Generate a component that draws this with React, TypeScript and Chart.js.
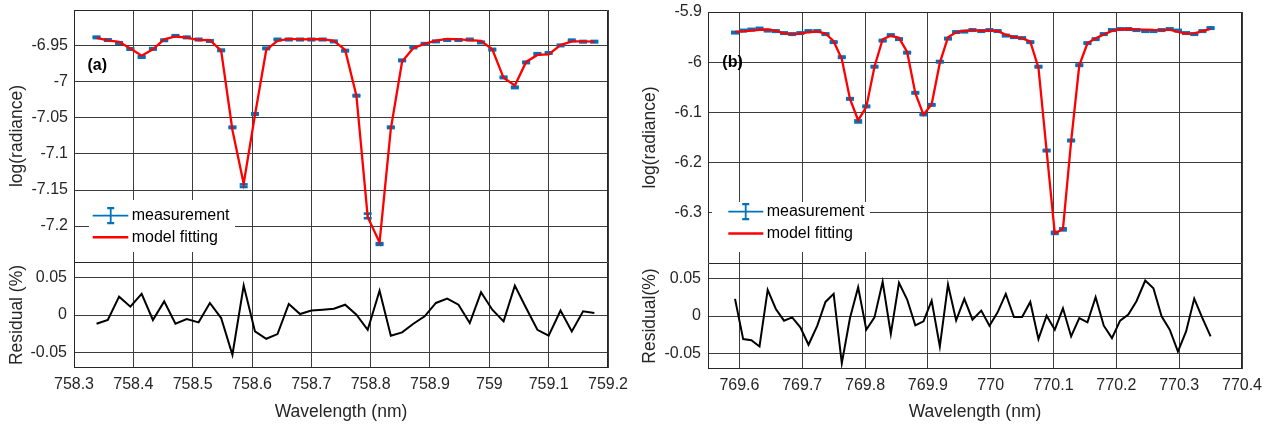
import React, { useEffect, useRef } from 'react';
import { Chart, registerables } from 'chart.js';

Chart.register(...registerables);

// ---------------- Panel (a) data ----------------
const wavelengthA = [
  758.338, 758.357, 758.376, 758.395, 758.414, 758.433, 758.452, 758.471, 758.490, 758.510,
  758.529, 758.548, 758.567, 758.586, 758.605, 758.624, 758.643, 758.662, 758.681, 758.700,
  758.719, 758.738, 758.757, 758.776, 758.795, 758.815, 758.834, 758.853, 758.872, 758.891,
  758.910, 758.929, 758.948, 758.967, 758.986, 759.005, 759.024, 759.043, 759.062, 759.081,
  759.100, 759.120, 759.139, 759.158, 759.177,
];
const measurementA = [
  -6.938, -6.9417, -6.9458, -6.9542, -6.9653, -6.954, -6.942, -6.936, -6.938, -6.941,
  -6.943, -6.956, -7.063, -7.144, -7.0444, -6.9533, -6.941, -6.941, -6.941, -6.941,
  -6.941, -6.9436, -6.9565, -7.019, -7.186, -7.225, -7.063, -6.970, -6.952, -6.947,
  -6.9436, -6.9417, -6.9417, -6.941, -6.945, -6.955, -6.9936, -7.0075, -6.9728, -6.961,
  -6.9597, -6.9492, -6.9422, -6.944, -6.944,
];
const errorA = [
  0.001, 0.001, 0.001, 0.001, 0.001, 0.001, 0.001, 0.001, 0.001, 0.001,
  0.001, 0.001, 0.001, 0.0018, 0.001, 0.001, 0.001, 0.001, 0.001, 0.001,
  0.001, 0.001, 0.001, 0.001, 0.0032, 0.0012, 0.001, 0.001, 0.001, 0.001,
  0.001, 0.001, 0.001, 0.001, 0.001, 0.001, 0.001, 0.001, 0.001, 0.001,
  0.001, 0.001, 0.001, 0.001, 0.001,
];
const modelA = [
  -6.9388, -6.9422, -6.9441, -6.9534, -6.9634, -6.9545, -6.9407, -6.9368, -6.9384, -6.9417,
  -6.9419, -6.9563, -7.0667, -7.1413, -7.0459, -6.9555, -6.9428, -6.940, -6.9409, -6.9406,
  -6.9405, -6.943, -6.9555, -7.019, -7.1874, -7.2228, -7.0649, -6.9716, -6.9528, -6.9471,
  -6.9425, -6.9402, -6.9407, -6.9417, -6.9429, -6.9545, -6.9942, -7.0048, -6.9721, -6.9624,
  -6.9616, -6.9488, -6.9437, -6.9437, -6.9438,
];
const residualA = [
  -0.0115, -0.0066, 0.0242, 0.011, 0.0278, -0.0066, 0.018, -0.0115, -0.0053, -0.0097,
  0.0159, -0.004, -0.0525, 0.039, -0.0217, -0.0314, -0.0252, 0.0145, 0.0013, 0.006,
  0.007, 0.0083, 0.0136, 0.0004, -0.0195, 0.032, -0.0274, -0.023, -0.0115, -0.0018,
  0.0159, 0.0216, 0.0136, -0.0106, 0.030, 0.007, -0.0084, 0.0388, 0.0093, -0.0195,
  -0.0274, 0.006, -0.0217, 0.0048, 0.0026,
];
const xTicksA = [758.3, 758.4, 758.5, 758.6, 758.7, 758.8, 758.9, 759, 759.1, 759.2];
const yTicksTopA = [-7.2, -7.15, -7.1, -7.05, -7, -6.95];

// ---------------- Panel (b) data ----------------
const wavelengthB = [
  769.593, 769.606, 769.619, 769.632, 769.645, 769.658, 769.671, 769.684, 769.697, 769.710,
  769.724, 769.737, 769.750, 769.763, 769.776, 769.789, 769.802, 769.815, 769.828, 769.841,
  769.854, 769.867, 769.880, 769.893, 769.906, 769.919, 769.932, 769.945, 769.958, 769.971,
  769.985, 769.998, 770.011, 770.024, 770.037, 770.050, 770.063, 770.076, 770.089, 770.102,
  770.115, 770.128, 770.141, 770.154, 770.167, 770.180, 770.193, 770.206, 770.219, 770.232,
  770.246, 770.259, 770.272, 770.285, 770.298, 770.311, 770.324, 770.337, 770.350,
];
const measurementB = [
  -5.941, -5.937, -5.935, -5.933, -5.937, -5.938, -5.942, -5.944, -5.942, -5.938,
  -5.938, -5.944, -5.960, -5.990, -6.073, -6.118, -6.088, -6.009, -5.957, -5.946,
  -5.954, -5.981, -6.061, -6.104, -6.085, -5.999, -5.953, -5.940, -5.939, -5.936,
  -5.938, -5.936, -5.938, -5.947, -5.950, -5.952, -5.960, -6.009, -6.176, -6.340,
  -6.333, -6.156, -6.006, -5.962, -5.954, -5.944, -5.936, -5.934, -5.934, -5.936,
  -5.938, -5.938, -5.936, -5.934, -5.937, -5.942, -5.944, -5.938, -5.932,
];
const errorB = [
  0.0014, 0.0014, 0.0014, 0.0014, 0.0014, 0.0014, 0.0014, 0.0014, 0.0014, 0.0014,
  0.0014, 0.0014, 0.0014, 0.0014, 0.0014, 0.002, 0.0014, 0.0014, 0.0014, 0.0014,
  0.0014, 0.0014, 0.0014, 0.0014, 0.0014, 0.0014, 0.0014, 0.0014, 0.0014, 0.0014,
  0.0014, 0.0014, 0.0014, 0.0014, 0.0014, 0.0014, 0.0014, 0.0014, 0.0014, 0.002,
  0.002, 0.0014, 0.0014, 0.0014, 0.0014, 0.0014, 0.0014, 0.0014, 0.0014, 0.0014,
  0.0014, 0.0014, 0.0014, 0.0014, 0.0014, 0.0014, 0.0014, 0.0014, 0.0014,
];
const modelB = [
  -5.9396, -5.9388, -5.9369, -5.9354, -5.9349, -5.9374, -5.9424, -5.9441, -5.9429, -5.9403,
  -5.9388, -5.9429, -5.9582, -5.9937, -6.0732, -6.1157, -6.0891, -6.0091, -5.9543, -5.9474,
  -5.9514, -5.9797, -6.0617, -6.1044, -6.0838, -6.0014, -5.9505, -5.9403, -5.9376, -5.9363,
  -5.9376, -5.9368, -5.9377, -5.9452, -5.9501, -5.9521, -5.9589, -6.0108, -6.176, -6.3411,
  -6.3324, -6.1576, -6.0062, -5.9625, -5.9525, -5.9448, -5.9378, -5.9344, -5.9339, -5.9348,
  -5.9352, -5.9358, -5.936, -5.9351, -5.9398, -5.9432, -5.9426, -5.9382, -5.9336,
];
const residualB = [
  0.0226, -0.0305, -0.0319, -0.0403, 0.0345, 0.0093, -0.0062, -0.0018, -0.015, -0.038,
  -0.0128, 0.0186, 0.0292, -0.0624, -0.0027, 0.038, -0.0181, -0.0018, 0.0451, -0.0235,
  0.0438, 0.0217, -0.0124, -0.0071, 0.0204, -0.0403, 0.0416, -0.0058, 0.0226, -0.0049,
  0.0071, -0.0128, 0.0049, 0.0292, -0.0013, -0.0013, 0.0186, -0.0305, 0.0004, -0.0181,
  0.0102, -0.027, -0.0027, -0.0084, 0.0248, -0.0128, -0.0292, -0.0062, 0.0018, 0.0195,
  0.0469, 0.0367, -0.0004, -0.0181, -0.0469, -0.0204, 0.023, -0.0027, -0.027,
];
const xTicksB = [769.6, 769.7, 769.8, 769.9, 770, 770.1, 770.2, 770.3, 770.4];
const yTicksTopB = [-6.3, -6.2, -6.1, -6, -5.9];

const yTicksResidual = [-0.05, 0, 0.05];

// ---------------- styles ----------------
const BLUE = '#0072BD';
const RED = '#FF0000';
const TEXT = '#262626';
const GRID = '#3c3c3c';
const FONT = "'Liberation Sans', Arial, Helvetica, sans-serif";

Chart.defaults.font.family = FONT;
Chart.defaults.color = TEXT;

const fmt = (v: number) => String(Number(Number(v).toFixed(3)));
const fixedTicks = (list: number[]) => (scale: any) => {
  scale.ticks = list.map((v) => ({ value: v }));
};

function framePlugin(drawBottom: boolean) {
  return {
    id: 'frame',
    afterDraw(chart: any) {
      const { left, top, right, bottom } = chart.chartArea;
      const ctx = chart.ctx;
      const l = Math.round(left) + 0.5;
      const t = Math.round(top) + 0.5;
      const r = Math.round(right) - 0.5;
      const b = Math.round(bottom) - 0.5;
      ctx.save();
      ctx.strokeStyle = TEXT;
      ctx.lineWidth = 1;
      ctx.beginPath();
      ctx.moveTo(l, Math.round(bottom));
      ctx.lineTo(l, t);
      ctx.lineTo(r, t);
      ctx.lineTo(r, Math.round(bottom));
      if (drawBottom) {
        ctx.moveTo(l, b);
        ctx.lineTo(r, b);
      }
      ctx.stroke();
      ctx.restore();
    },
  };
}

interface LegendSpec {
  box: [number, number, number, number];
  lineX: [number, number];
  barX: number;
  y1: number;
  y2: number;
  textX: number;
  tag: string;
  tagX: number;
  tagY: number;
}

function overlayPlugin(meas: number[], err: number[], xs: number[], lg: LegendSpec) {
  return {
    id: 'overlay',
    beforeDatasetsDraw(chart: any) {
      const ctx = chart.ctx;
      const xS = chart.scales.x;
      const yS = chart.scales.y;
      ctx.save();
      ctx.fillStyle = BLUE;
      for (let i = 0; i < meas.length; i++) {
        const x = xS.getPixelForValue(xs[i]);
        const yt = yS.getPixelForValue(meas[i] + err[i]);
        const yb = yS.getPixelForValue(meas[i] - err[i]);
        ctx.fillRect(x - 4, yt - 1.3, 8, 2.6);
        ctx.fillRect(x - 4, yb - 1.3, 8, 2.6);
        ctx.fillRect(x - 0.9, yt, 1.8, yb - yt);
      }
      ctx.restore();
    },
    afterDraw(chart: any) {
      const ctx = chart.ctx;
      ctx.save();
      ctx.fillStyle = '#ffffff';
      ctx.fillRect(lg.box[0], lg.box[1], lg.box[2], lg.box[3]);
      ctx.strokeStyle = BLUE;
      ctx.lineWidth = 1.8;
      ctx.beginPath();
      ctx.moveTo(lg.lineX[0], lg.y1);
      ctx.lineTo(lg.lineX[1], lg.y1);
      ctx.moveTo(lg.barX, lg.y1 - 8);
      ctx.lineTo(lg.barX, lg.y1 + 8);
      ctx.stroke();
      ctx.lineWidth = 2.2;
      ctx.beginPath();
      ctx.moveTo(lg.barX - 3.5, lg.y1 - 7.5);
      ctx.lineTo(lg.barX + 3.5, lg.y1 - 7.5);
      ctx.moveTo(lg.barX - 3.5, lg.y1 + 7.5);
      ctx.lineTo(lg.barX + 3.5, lg.y1 + 7.5);
      ctx.stroke();
      ctx.strokeStyle = RED;
      ctx.lineWidth = 2.4;
      ctx.beginPath();
      ctx.moveTo(lg.lineX[0], lg.y2);
      ctx.lineTo(lg.lineX[1], lg.y2);
      ctx.stroke();
      ctx.fillStyle = '#000000';
      ctx.font = `16px ${FONT}`;
      ctx.textBaseline = 'middle';
      ctx.textAlign = 'left';
      ctx.fillText('measurement', lg.textX, lg.y1);
      ctx.fillText('model fitting', lg.textX, lg.y2);
      ctx.font = `bold 16px ${FONT}`;
      ctx.fillText(lg.tag, lg.tagX, lg.tagY);
      ctx.restore();
    },
  };
}

function topConfig(p: any) {
  return {
    type: 'line',
    data: {
      datasets: [
        {
          label: 'measurement',
          data: p.xs.map((x: number, i: number) => ({ x, y: p.meas[i] })),
          showLine: false,
          pointRadius: 0,
          borderColor: BLUE,
          backgroundColor: BLUE,
        },
        {
          label: 'model fitting',
          data: p.xs.map((x: number, i: number) => ({ x, y: p.model[i] })),
          borderColor: RED,
          borderWidth: 2.3,
          pointRadius: 0,
          tension: 0,
          fill: false,
        },
      ],
    },
    options: {
      responsive: false,
      animation: false,
      devicePixelRatio: 1,
      events: [],
      layout: { padding: { top: p.padTop, right: p.padRight, left: 0, bottom: 0 } },
      plugins: { legend: { display: false }, tooltip: { enabled: false } },
      scales: {
        x: {
          type: 'linear',
          min: p.xMin,
          max: p.xMax,
          afterBuildTicks: fixedTicks(p.xTicks),
          afterFit: (s: any) => {
            s.height = 0;
            s.paddingLeft = 0;
            s.paddingRight = 0;
          },
          ticks: { display: false },
          grid: { color: GRID, lineWidth: 1, drawTicks: false },
          border: { display: false },
        },
        y: {
          type: 'linear',
          min: p.yMin,
          max: p.yMax,
          afterBuildTicks: fixedTicks(p.yTicks),
          afterFit: (s: any) => {
            s.width = p.yWidth;
            s.paddingTop = 0;
            s.paddingBottom = 0;
          },
          ticks: { font: { size: 16 }, color: TEXT, padding: 6, callback: (v: number) => fmt(v) },
          grid: { color: GRID, lineWidth: 1, drawTicks: false },
          border: { display: false },
          title: {
            display: true,
            text: 'log(radiance)',
            color: TEXT,
            font: { size: 17.5 },
            padding: { top: 7, bottom: 0 },
          },
        },
      },
    },
    plugins: [framePlugin(false), overlayPlugin(p.meas, p.err, p.xs, p.legend)],
  };
}

function residualConfig(p: any) {
  return {
    type: 'line',
    data: {
      datasets: [
        {
          label: 'residual',
          data: p.xs.map((x: number, i: number) => ({ x, y: p.res[i] })),
          borderColor: '#000000',
          borderWidth: 2,
          pointRadius: 0,
          tension: 0,
          fill: false,
        },
      ],
    },
    options: {
      responsive: false,
      animation: false,
      devicePixelRatio: 1,
      events: [],
      layout: { padding: { top: 0, right: p.padRight, left: 0, bottom: 0 } },
      plugins: { legend: { display: false }, tooltip: { enabled: false } },
      scales: {
        x: {
          type: 'linear',
          min: p.xMin,
          max: p.xMax,
          afterBuildTicks: fixedTicks(p.xTicks),
          afterFit: (s: any) => {
            s.height = p.xHeight;
            s.paddingLeft = 0;
            s.paddingRight = 0;
          },
          ticks: { font: { size: 16 }, color: TEXT, padding: 7, maxRotation: 0, autoSkip: false, callback: (v: number) => fmt(v) },
          grid: { color: GRID, lineWidth: 1, drawTicks: false },
          border: { display: false },
          title: {
            display: true,
            text: 'Wavelength (nm)',
            color: TEXT,
            font: { size: 17.5 },
            padding: { top: 0, bottom: 1 },
          },
        },
        y: {
          type: 'linear',
          min: -0.07,
          max: 0.07,
          afterBuildTicks: fixedTicks(yTicksResidual),
          afterFit: (s: any) => {
            s.width = p.yWidth;
            s.paddingTop = 0;
            s.paddingBottom = 0;
          },
          ticks: { font: { size: 16 }, color: TEXT, padding: 7, callback: (v: number) => fmt(v) },
          grid: { color: GRID, lineWidth: 1, drawTicks: false },
          border: { display: false },
          title: {
            display: true,
            text: p.yTitle,
            color: TEXT,
            font: { size: 17.5 },
            padding: { top: 7, bottom: 0 },
          },
        },
      },
    },
    plugins: [framePlugin(true)],
  };
}

function ChartCanvas({ config, left, top, width, height }: any) {
  const ref = useRef<HTMLCanvasElement | null>(null);
  useEffect(() => {
    if (!ref.current) return;
    const chart = new Chart(ref.current, config);
    return () => chart.destroy();
  }, []);
  return (
    <canvas
      ref={ref}
      width={width}
      height={height}
      style={{ position: 'absolute', left, top, width, height, display: 'block' }}
    />
  );
}

export default function App() {
  const topA = topConfig({
    xs: wavelengthA, meas: measurementA, model: modelA, err: errorA,
    xMin: 758.3, xMax: 759.2, yMin: -7.25, yMax: -6.9,
    xTicks: xTicksA, yTicks: yTicksTopA, padTop: 10, padRight: 25, yWidth: 74,
    legend: {
      box: [89, 200, 146, 52], lineX: [92.7, 128.3], barX: 110.7, y1: 215.7, y2: 237.3,
      textX: 131.7, tag: '(a)', tagX: 87.5, tagY: 65.5,
    },
  });
  const resA = residualConfig({
    xs: wavelengthA, res: residualA, xMin: 758.3, xMax: 759.2, xTicks: xTicksA,
    padRight: 25, yWidth: 74, xHeight: 56, yTitle: 'Residual (%)',
  });
  const topB = topConfig({
    xs: wavelengthB, meas: measurementB, model: modelB, err: errorB,
    xMin: 769.55, xMax: 770.4, yMin: -6.4, yMax: -5.9,
    xTicks: xTicksB, yTicks: yTicksTopB, padTop: 12, padRight: 25, yWidth: 75,
    legend: {
      box: [79, 202, 158, 50], lineX: [95.3, 130.3], barX: 112.7, y1: 211.7, y2: 233.5,
      textX: 133.7, tag: '(b)', tagX: 89.3, tagY: 62.5,
    },
  });
  const resB = residualConfig({
    xs: wavelengthB, res: residualB, xMin: 769.55, xMax: 770.4, xTicks: xTicksB,
    padRight: 25, yWidth: 75, xHeight: 55, yTitle: 'Residual(%)',
  });

  return (
    <div style={{ position: 'fixed', left: 0, top: 0, width: 1267, height: 424, background: '#ffffff', overflow: 'hidden' }}>
      <ChartCanvas config={topA} left={0} top={0} width={633} height={262} />
      <ChartCanvas config={resA} left={0} top={262} width={633} height={162} />
      <ChartCanvas config={topB} left={633} top={0} width={634} height={263} />
      <ChartCanvas config={resB} left={633} top={263} width={634} height={161} />
    </div>
  );
}
